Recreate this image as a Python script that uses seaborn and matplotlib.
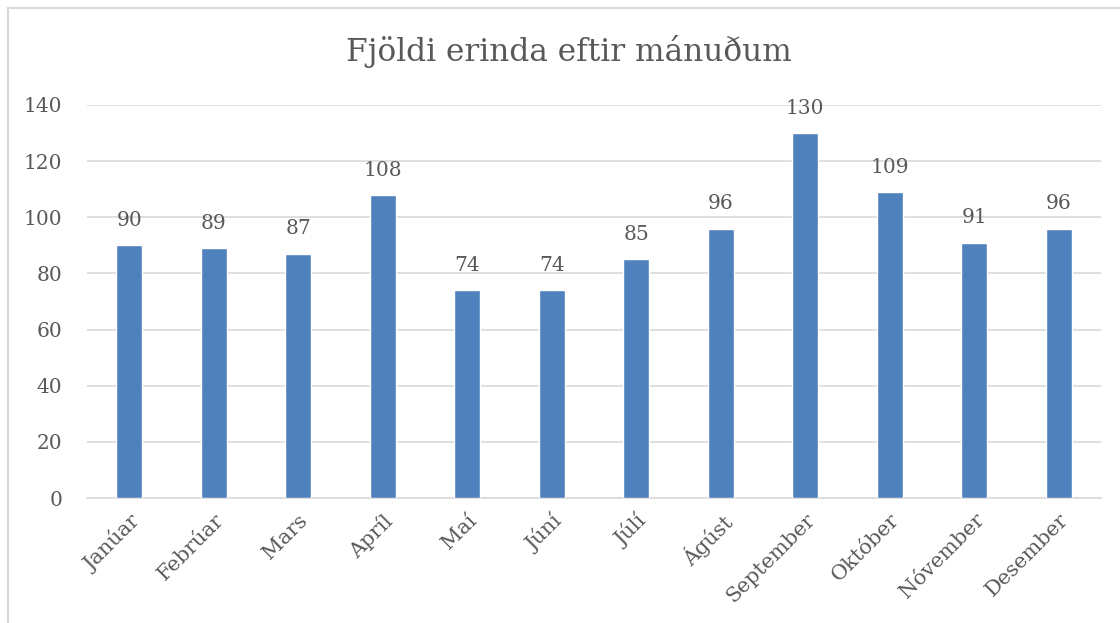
import matplotlib
matplotlib.use("Agg")
import matplotlib.pyplot as plt
import seaborn as sns
import pandas as pd
from matplotlib.patches import Rectangle

# data
months = ["Janúar", "Febrúar", "Mars", "Apríl", "Maí", "Júní",
          "Júlí", "Ágúst", "September", "Október", "Nóvember", "Desember"]
counts = [90, 89, 87, 108, 74, 74, 85, 96, 130, 109, 91, 96]

df = pd.DataFrame({"manudur": months, "fjoldi": counts})

sns.set_style("white")
plt.rcParams["font.family"] = ["DejaVu Serif"]

text_col = "#595959"
grid_col = "#D9D9D9"
bar_col = "#4F81BD"

fig = plt.figure(figsize=(11.2, 6.23), dpi=100)
ax = fig.add_axes([0.0777, 0.2006, 0.9053, 0.6309])

sns.barplot(data=df, x="manudur", y="fjoldi", color=bar_col, width=0.31,
            saturation=1, ax=ax, zorder=3)

ax.bar_label(ax.containers[0], padding=11, fontsize=14.5, color=text_col)

ax.set_ylim(0, 140)
ax.set_yticks(range(0, 141, 20))
ax.set_xlim(-0.5, len(months) - 0.5)
ax.grid(axis="y", color=grid_col, linewidth=1.2, zorder=0)
ax.grid(axis="x", visible=False)
for s in ["top", "right", "left"]:
    ax.spines[s].set_visible(False)
ax.spines["bottom"].set_color(grid_col)
ax.spines["bottom"].set_linewidth(1.2)

ax.tick_params(axis="y", length=0, labelsize=14.5, labelcolor=text_col, pad=18)
ax.tick_params(axis="x", length=0, labelsize=15, labelcolor=text_col, pad=9)
plt.setp(ax.get_xticklabels(), rotation=45, ha="right", rotation_mode="anchor")
ax.set_xlabel("")
ax.set_ylabel("")

fig.text(0.508, 0.918, "Fjöldi erinda eftir mánuðum", ha="center", va="center",
         fontsize=22.5, color=text_col)

# chart frame (only left and top edges show in the reference)
fig.patches.append(Rectangle((8 / 1120, -0.1), 1.2, 1 - 8 / 623 + 0.1,
                             transform=fig.transFigure, fill=False,
                             edgecolor=grid_col, linewidth=1.5))

fig.savefig("out.png", dpi=100)
